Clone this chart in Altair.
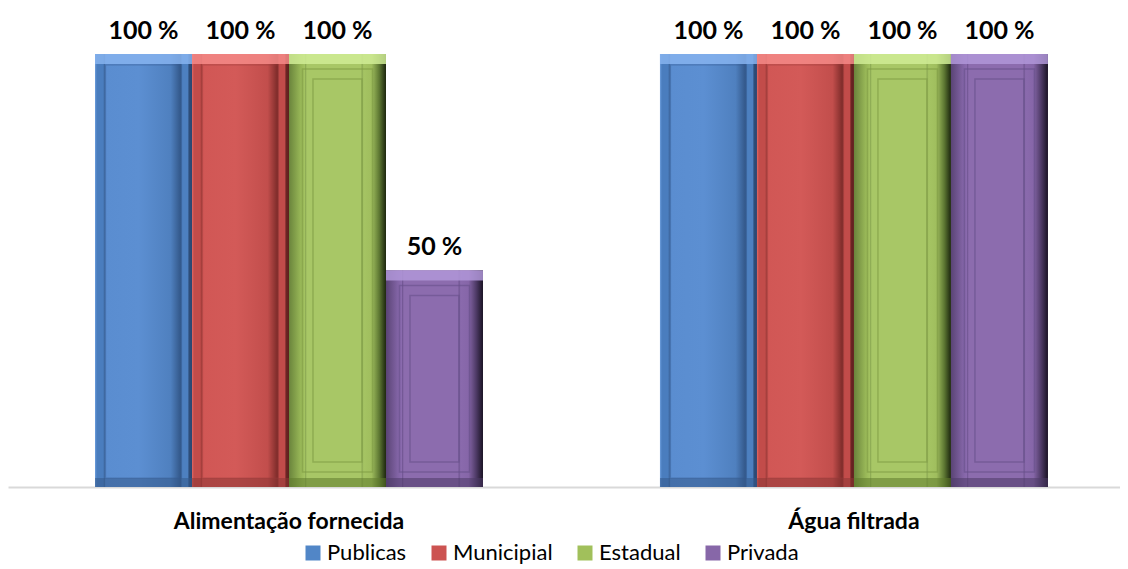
import altair as alt
import pandas as pd

categories = ["Alimentação fornecida", "Água filtrada"]
series = ["Publicas", "Municipial", "Estadual", "Privada"]
values_alimentacao = [100, 100, 100, 50]
values_agua = [100, 100, 100, 100]

mid_colors = ["#5186C7", "#CC5351", "#A1C05B", "#8767A8"]
light_colors = ["#86B3EE", "#F58A87", "#D0EC95", "#B096D8"]
bottom_colors = ["#34598A", "#8C3634", "#5E7A2C", "#4C3A66"]
frame_colors = ["#355C90", "#983B39", "#7E9B45", "#67508A"]

rows = []
for cat, vals in zip(categories, [values_alimentacao, values_agua]):
    for i, (s, v) in enumerate(zip(series, vals)):
        rows.append({
            "categoria": cat, "serie": s, "valor": v, "base": 0,
            "rotulo": f"{v} %",
            "light": light_colors[i], "bottom": bottom_colors[i],
            "frame": frame_colors[i],
        })
df = pd.DataFrame(rows)

FONT = "Lato"


def grad(stops):
    return alt.Gradient(
        gradient="linear", x1=0, y1=0, x2=1, y2=0,
        stops=[alt.GradientStop(offset=o, color=c) for o, c in stops],
    )


gradients = {
    "Publicas": grad([
        (0.0, "#6D9EDD"), (0.02, "#4A7DBE"), (0.085, "#4A7DBE"), (0.095, "#3A6399"),
        (0.11, "#5A8DD0"), (0.45, "#5C8FD2"), (0.78, "#4F80BF"), (0.88, "#33588A"),
        (0.90, "#4D80C0"), (0.955, "#4D80C0"), (0.97, "#2E4E7A"), (1.0, "#2A4670"),
    ]),
    "Municipial": grad([
        (0.0, "#E06A67"), (0.02, "#C24C4A"), (0.085, "#C24C4A"), (0.095, "#9C3A38"),
        (0.11, "#D15755"), (0.45, "#D35A58"), (0.78, "#C24E4C"), (0.88, "#7E2C2A"),
        (0.90, "#C24C4A"), (0.955, "#C24C4A"), (0.97, "#6E2524"), (1.0, "#5E1F1E"),
    ]),
    "Estadual": grad([
        (0.0, "#6A843C"), (0.12, "#98B757"), (0.16, "#A3C260"), (0.17, "#8EAC55"),
        (0.185, "#A8C766"), (0.74, "#A8C766"), (0.755, "#8EAB55"), (0.77, "#A5C463"),
        (0.85, "#A0BE5E"), (0.93, "#5E7833"), (1.0, "#1C260E"),
    ]),
    "Privada": grad([
        (0.0, "#5A4475"), (0.12, "#8163A4"), (0.16, "#8A6AAE"), (0.17, "#745896"),
        (0.185, "#8C6CAE"), (0.74, "#8C6CAE"), (0.755, "#735894"), (0.77, "#8A6AAD"),
        (0.85, "#8666A8"), (0.93, "#4E3A66"), (1.0, "#1A1324"),
    ]),
}

x_enc = alt.X(
    "categoria:N",
    sort=categories,
    scale=alt.Scale(paddingInner=0.3133, paddingOuter=0.1408, align=0.547),
    axis=alt.Axis(
        title=None, labelAngle=0, ticks=False, grid=False,
        domainColor="#D9D9D9", domainWidth=2, labelLimit=600,
        labelFont=FONT, labelFontSize=23, labelFontWeight="bold",
        labelColor="#000000", labelPadding=23,
    ),
)
xo_enc = alt.XOffset("serie:N", sort=series, scale=alt.Scale(paddingInner=0, paddingOuter=0))
y_scale = alt.Scale(domain=[0, 110.6], nice=False, zero=True)
y_enc = alt.Y("valor:Q", scale=y_scale, axis=None)

base = alt.Chart(df)

bars = base.mark_bar().encode(
    x=x_enc, xOffset=xo_enc, y=y_enc,
    color=alt.Color(
        "serie:N", sort=series,
        scale=alt.Scale(domain=series, range=mid_colors),
        legend=alt.Legend(
            title=None, orient="none", direction="horizontal",
            legendX=294, legendY=534, padding=0,
            symbolType="square", symbolSize=225, symbolStrokeWidth=0,
            labelFont=FONT, labelFontSize=22, labelColor="#000000",
            labelOffset=3, columnPadding=21,
        ),
    ),
)

grad_layers = [
    base.transform_filter(alt.datum.serie == s).mark_bar(fill=gradients[s]).encode(
        x=x_enc, xOffset=xo_enc, y=y_enc
    )
    for s in series
]

top_strip = base.mark_bar(y2Offset=10, opacity=0.85).encode(
    x=x_enc, xOffset=xo_enc, y=y_enc, y2=alt.Y2("valor:Q"),
    fill=alt.Fill("light:N", scale=None)
)
bottom_strip = base.mark_bar(yOffset=-9, opacity=0.55).encode(
    x=x_enc, xOffset=xo_enc, y=alt.Y("base:Q", scale=y_scale, axis=None), y2=alt.Y2("base:Q"),
    fill=alt.Fill("bottom:N", scale=None)
)
frames_bevel = base.transform_filter(
    alt.FieldOneOfPredicate(field="serie", oneOf=["Publicas", "Municipial"])
).mark_bar(
    width=76, yOffset=11, y2Offset=-9, fillOpacity=0, strokeWidth=1.2, strokeOpacity=0.45
).encode(
    x=x_enc, xOffset=xo_enc, y=y_enc, y2=alt.Y2("base:Q"),
    stroke=alt.Stroke("frame:N", scale=None)
)
frames_outer = base.transform_filter(
    alt.FieldOneOfPredicate(field="serie", oneOf=["Estadual", "Privada"])
).mark_bar(
    width=70, yOffset=15, y2Offset=-15, fillOpacity=0, strokeWidth=1.5, strokeOpacity=0.6
).encode(
    x=x_enc, xOffset=xo_enc, y=y_enc, y2=alt.Y2("base:Q"),
    stroke=alt.Stroke("frame:N", scale=None)
)
frames_inner = base.transform_filter(
    alt.FieldOneOfPredicate(field="serie", oneOf=["Estadual", "Privada"])
).mark_bar(
    width=49, yOffset=25, y2Offset=-25, fillOpacity=0, strokeWidth=1.5, strokeOpacity=0.6
).encode(
    x=x_enc, xOffset=xo_enc, y=y_enc, y2=alt.Y2("base:Q"),
    stroke=alt.Stroke("frame:N", scale=None)
)

labels = base.mark_text(
    baseline="alphabetic", dy=-15, font=FONT, fontSize=25, fontWeight="bold", color="#000000"
).encode(
    x=x_enc, xOffset=xo_enc, y=y_enc, text="rotulo:N"
)

chart = alt.layer(
    bars, *grad_layers, top_strip, bottom_strip, frames_bevel, frames_outer, frames_inner, labels
).properties(
    width=1112, height=479, padding=0
).configure_view(stroke=None)

chart.save("out.html", embed_options={"renderer": "svg", "actions": False})
